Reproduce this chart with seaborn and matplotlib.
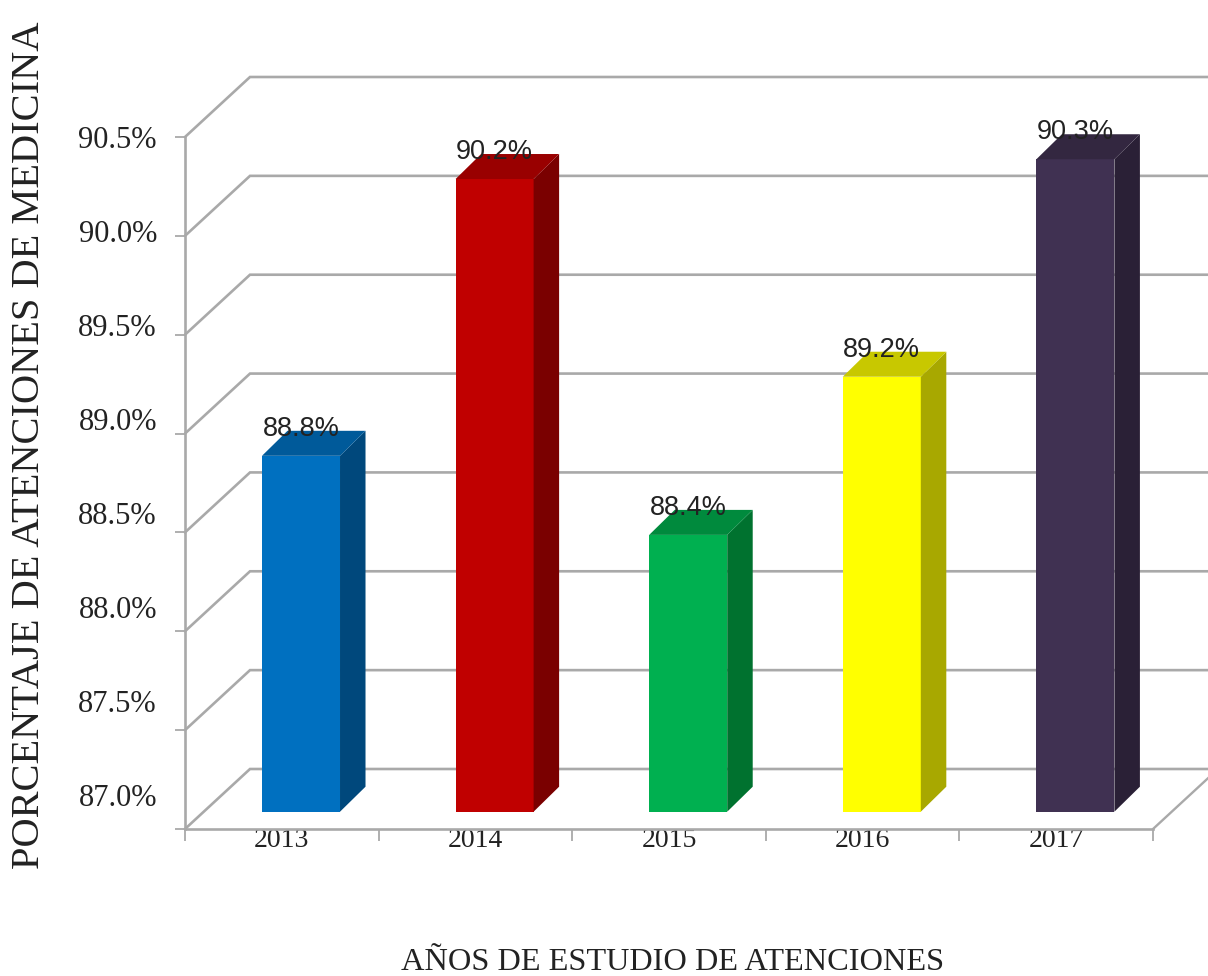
import numpy as np
import pandas as pd
import seaborn as sns
import matplotlib
matplotlib.use("Agg")
import matplotlib.pyplot as plt
from matplotlib.patches import Polygon
from matplotlib.transforms import Affine2D

# Yearly share of medicine consultations (%)
years = ["2013", "2014", "2015", "2016", "2017"]
shares = [88.8, 90.2, 88.4, 89.2, 90.3]
y_ticks = [87.0, 87.5, 88.0, 88.5, 89.0, 89.5, 90.0, 90.5]

front_colors = ["#0070C0", "#C00000", "#00B050", "#FFFF00", "#403152"]
side_colors = ["#00487C", "#7A0000", "#00722F", "#A8A800", "#2A2036"]
top_colors = ["#005A9A", "#990000", "#008A3D", "#C8C800", "#332740"]

GRID = "#A9A9A9"
INK = "#222222"
W, H = 1208, 976
PLOT_L, PLOT_R, PLOT_T, PLOT_B = 185, 1153, 137, 829

sns.set_theme(style="white")
plt.rcParams["font.family"] = ["Liberation Serif", "DejaVu Serif"]

fig = plt.figure(figsize=(W / 100, H / 100), dpi=100, facecolor="white")
ax = fig.add_axes([PLOT_L / W, 1 - PLOT_B / H, (PLOT_R - PLOT_L) / W, (PLOT_B - PLOT_T) / H])

df = pd.DataFrame({"year": years, "share": shares})
sns.barplot(data=df, x="year", y="share", hue="year", palette=front_colors,
            saturation=1, width=0.403, legend=False, ax=ax, zorder=3, linewidth=0)

ax.set_xlim(-0.5, 4.5)
ax.set_ylim(y_ticks[0], y_ticks[-1])
base = y_ticks[0]

# Pixel scale of the plot, used to express the oblique depth in data units
px_x = 5 / (PLOT_R - PLOT_L)
px_y = (y_ticks[-1] - y_ticks[0]) / (PLOT_B - PLOT_T)

wall_dx, wall_dy = 65 * px_x, 60 * px_y      # floor / back wall depth
plane_dx, plane_dy = 19.2 * px_x, 17.3 * px_y  # bars stand inside the floor
bar_dx, bar_dy = 25.5 * px_x, 25 * px_y      # depth of each bar

# Back wall gridlines with their slanted returns to the value axis
right_edge = -0.5 + (W - PLOT_L) * px_x + 0.05
for v in y_ticks:
    ax.plot([-0.5, -0.5 + wall_dx, right_edge], [v, v + wall_dy, v + wall_dy],
            color=GRID, lw=1.9, clip_on=False, zorder=1, solid_joinstyle="miter")
ax.plot([4.5, 4.5 + wall_dx], [base, base + wall_dy], color=GRID, lw=1.7,
        clip_on=False, zorder=1)

# Turn the flat bars into oblique prisms
for i, (patch, value) in enumerate(zip(ax.patches, shares)):
    x0 = patch.get_x() + plane_dx
    w = patch.get_width()
    y0 = base + plane_dy
    y1 = value + plane_dy
    patch.set_x(x0)
    patch.set_y(y0)
    patch.set_height(value - base)
    patch.set_clip_on(False)
    ax.add_patch(Polygon([(x0 + w, y0), (x0 + w + bar_dx, y0 + bar_dy),
                          (x0 + w + bar_dx, y1 + bar_dy), (x0 + w, y1)],
                         closed=True, fc=side_colors[i], ec="none", zorder=3, clip_on=False))
    ax.add_patch(Polygon([(x0, y1), (x0 + bar_dx, y1 + bar_dy),
                          (x0 + w + bar_dx, y1 + bar_dy), (x0 + w, y1)],
                         closed=True, fc=top_colors[i], ec="none", zorder=3, clip_on=False))
    ax.text(x0 + w / 2, y1 + 20 * px_y, f"{value:.1f}%", ha="center", va="baseline",
            family=["Liberation Sans"], fontsize=19.5, color=INK, zorder=5, clip_on=False)

# Axes frame
sns.despine(ax=ax, top=True, right=True)
for side in ("left", "bottom"):
    ax.spines[side].set_color(GRID)
    ax.spines[side].set_linewidth(1.9)
    ax.spines[side].set_zorder(2)

ax.set_yticks(y_ticks)
ax.set_yticklabels([f"{v:.1f}%" for v in y_ticks], fontsize=22, color=INK)
ax.tick_params(axis="y", length=7.2, width=1.3, color=GRID, pad=13, left=True)

ax.set_xticks(range(len(years)))
ax.set_xticklabels(years, fontsize=20, color=INK)
ax.set_xticks(np.arange(-0.5, 5), minor=True)
ax.tick_params(axis="x", which="major", length=0, pad=-1)
ax.tick_params(axis="x", which="minor", length=8.6, width=1.3, color=GRID, bottom=True)

# Value labels sit progressively above their ticks towards the bottom of the axis
for tick, v in zip(ax.yaxis.get_major_ticks(), y_ticks):
    lift = 34 * (y_ticks[-1] - v) / (y_ticks[-1] - y_ticks[0])
    tick.label1.set_transform(tick.label1.get_transform() + Affine2D().translate(0, lift))
for t in ax.get_xticklabels():
    t.set_zorder(6)

ax.set_xlabel("AÑOS DE ESTUDIO DE ATENCIONES", fontsize=23.3, color=INK, va="center")
ax.set_ylabel("PORCENTAJE DE ATENCIONES DE MEDICINA", fontsize=29.2, color=INK, va="center")
ax.xaxis.set_label_coords((673 - PLOT_L) / (PLOT_R - PLOT_L), (PLOT_B - 962) / (PLOT_B - PLOT_T))
ax.yaxis.set_label_coords((30 - PLOT_L) / (PLOT_R - PLOT_L), (PLOT_B - 445) / (PLOT_B - PLOT_T))

fig.savefig("out.png", dpi=100, facecolor="white")
